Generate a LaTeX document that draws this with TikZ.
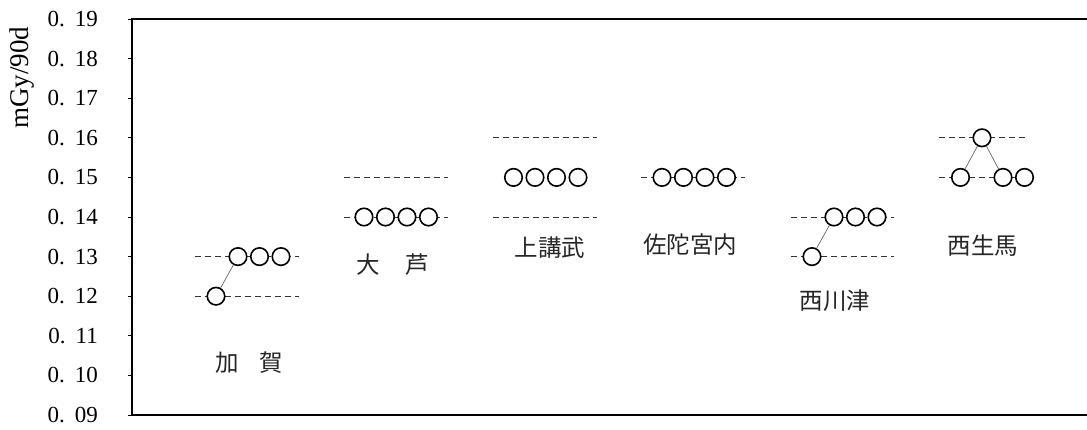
\documentclass[tikz,border=0pt]{standalone}
\usepackage{fontspec}
\setmainfont{Liberation Serif}
\newfontfamily\jp{Noto Sans CJK JP}
\begin{document}
\begin{tikzpicture}[x=1pt,y=-1pt,
  pt/.style={circle,draw=black,line width=1.6pt,fill=white,minimum size=17.5pt,inner sep=0pt},
  refline/.style={draw=black!80,line width=0.9pt,dash pattern=on 5.5pt off 4.5pt},
  link/.style={draw=black!60,line width=0.7pt},
  ticklab/.style={font=\fontsize{23}{23}\selectfont,anchor=east,inner sep=0pt},
  place/.style={font=\jp\fontsize{23.5}{23.5}\selectfont,inner sep=0pt,text=black!85}]
\useasboundingbox (0,0) rectangle (1087,430);
% frame
\draw[line width=2pt] (1087,19) -- (131.5,19) -- (131.5,415) -- (1087,415);
\foreach \i in {0,...,10} \draw[line width=0.8pt] (127.5,{19+39.6*\i}) -- (131.5,{19+39.6*\i});
% tick labels
\foreach \i/\t in {0/19,1/18,2/17,3/16,4/15,5/14,6/13,7/12,8/11,9/10,10/09}
  \node[ticklab] (t\i) at (98,{19+39.6*\i}) {0.\hspace{10pt}\t};
\node[rotate=90,font=\fontsize{27}{27}\selectfont,inner sep=0pt] (ylab) at (22,78) {mGy/90d};
% reference lines
\draw[refline] (195,256.6) -- (299,256.6);
\draw[refline] (195,296.2) -- (299,296.2);
\draw[refline] (344,177.4) -- (448,177.4);
\draw[refline] (344,217) -- (448,217);
\draw[refline] (493,137.8) -- (597,137.8);
\draw[refline] (493,217) -- (597,217);
\draw[refline] (641,177.4) -- (745,177.4);
\draw[refline] (791,217) -- (894,217);
\draw[refline] (791,256.6) -- (894,256.6);
\draw[refline] (939,137.8) -- (1025,137.8);
\draw[refline] (939,177.4) -- (1025,177.4);
% Kaga
\node[pt] (ka0) at (216,296.2) {};
\node[pt] (ka1) at (238,256.6) {};
\node[pt] (ka2) at (259.5,256.6) {};
\node[pt] (ka3) at (281,256.6) {};
\draw[link] (ka0) -- (ka1);
% Oashi
\node[pt] (oa1) at (364,217) {};
\node[pt] (oa2) at (385.5,217) {};
\node[pt] (oa3) at (407,217) {};
\node[pt] (oa4) at (428.5,217) {};
% Kamikoubu
\node[pt] (km1) at (513.5,177.4) {};
\node[pt] (km2) at (535,177.4) {};
\node[pt] (km3) at (556.5,177.4) {};
\node[pt] (km4) at (578,177.4) {};
% Sada-Miyauchi
\node[pt] (sd1) at (662,177.4) {};
\node[pt] (sd2) at (683.5,177.4) {};
\node[pt] (sd3) at (705,177.4) {};
\node[pt] (sd4) at (726.5,177.4) {};
% Nishikawatsu
\node[pt] (nk0) at (812,256.6) {};
\node[pt] (nk1) at (834,217) {};
\node[pt] (nk2) at (855.5,217) {};
\node[pt] (nk3) at (877,217) {};
\draw[link] (nk0) -- (nk1);
% Nishiikuma
\node[pt] (ni0) at (982,137.8) {};
\node[pt] (ni1) at (960.5,177.4) {};
\node[pt] (ni2) at (1003,177.4) {};
\node[pt] (ni3) at (1024.5,177.4) {};
\draw[link] (ni0) -- (ni1);
\draw[link] (ni0) -- (ni2);
% labels
\node[place] (kaga) at (249.5,363) {加\hspace{21pt}賀};
\node[place] (oashi) at (393,265) {大\hspace{26pt}芦};
\node[place] (kamiko) at (550,248) {上講武};
\node[place] (sada) at (690,245) {佐陀宮内};
\node[place] (nishikawa) at (835,301) {西川津};
\node[place] (nishiiku) at (983,246) {西生馬};
\end{tikzpicture}
\end{document}
